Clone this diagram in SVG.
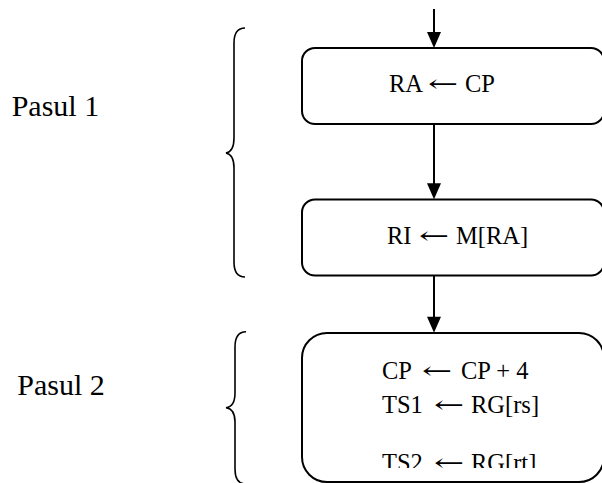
<svg xmlns="http://www.w3.org/2000/svg" width="602" height="483" viewBox="0 0 602 483">
<defs>
<style>
.box{fill:#fff;stroke:#000;stroke-width:2}
.t{font-family:"Liberation Serif","Times New Roman",serif;font-size:24.5px;fill:#000}
.ar{font-family:"DejaVu Serif","DejaVu Sans",serif;font-size:24px;fill:#000}
.lab{font-family:"Liberation Serif","Times New Roman",serif;font-size:30px;fill:#000}
.br{fill:none;stroke:#000;stroke-width:1.6}
.c{stroke:#000;stroke-width:2;fill:none}
</style>
<clipPath id="clip3"><rect x="302" y="333" width="300" height="135"/></clipPath>
</defs>
<rect width="602" height="483" fill="#fff"/>
<g id="labels">
<text class="lab" x="11.7" y="116">Pasul 1</text>
<text class="lab" x="17.3" y="395">Pasul 2</text>
<path class="br" d="M245,28 C238,28 234,33 234,43 L234,138 C234,147 231,152 226,153 C231,154 234,159 234,168 L234,262 C234,272 238,277 245,277"/>
<path class="br" d="M246,331.7 C239,331.7 235,337 235,347 L235,393 C235,402 232,407 226,407.7 C232,408.4 235,413 235,422 L235,469 C235,479 239,484 246,484"/>
</g>
<g id="connectors">
<line class="c" x1="434" y1="9" x2="434" y2="34"/>
<path d="M427,32 L441,32 L434,48 Z"/>
<line class="c" x1="434" y1="124" x2="434" y2="185"/>
<path d="M427,183.3 L441,183.3 L434,199.3 Z"/>
<line class="c" x1="434" y1="276" x2="434" y2="318"/>
<path d="M427,316.7 L441,316.7 L434,332.7 Z"/>
</g>
<g id="node1">
<rect class="box" x="302" y="48" width="302" height="76" rx="13"/>
<text class="t" x="389" y="92">RA</text>
<text class="ar" transform="translate(428,92) scale(1.5,1)">←</text>
<text class="t" x="465" y="92">CP</text>
</g>
<g id="node2">
<rect class="box" x="302" y="199.5" width="302" height="76" rx="13"/>
<text class="t" x="387" y="244">RI</text>
<text class="ar" transform="translate(419,244) scale(1.5,1)">←</text>
<text class="t" x="456" y="244">M[RA]</text>
</g>
<g id="node3">
<rect class="box" x="302" y="333" width="302" height="149" rx="25"/>
<g clip-path="url(#clip3)">
<text class="t" x="382" y="379">CP</text>
<text class="ar" transform="translate(422,379) scale(1.5,1)">←</text>
<text class="t" x="461" y="379">CP + 4</text>
<text class="t" x="382" y="413">TS1</text>
<text class="ar" transform="translate(434,413) scale(1.5,1)">←</text>
<text class="t" x="471" y="413">RG[rs]</text>
<text class="t" x="382" y="470.5">TS2</text>
<text class="ar" transform="translate(434,470.5) scale(1.5,1)">←</text>
<text class="t" x="471" y="470.5">RG[rt]</text>
</g>
</g>
</svg>
